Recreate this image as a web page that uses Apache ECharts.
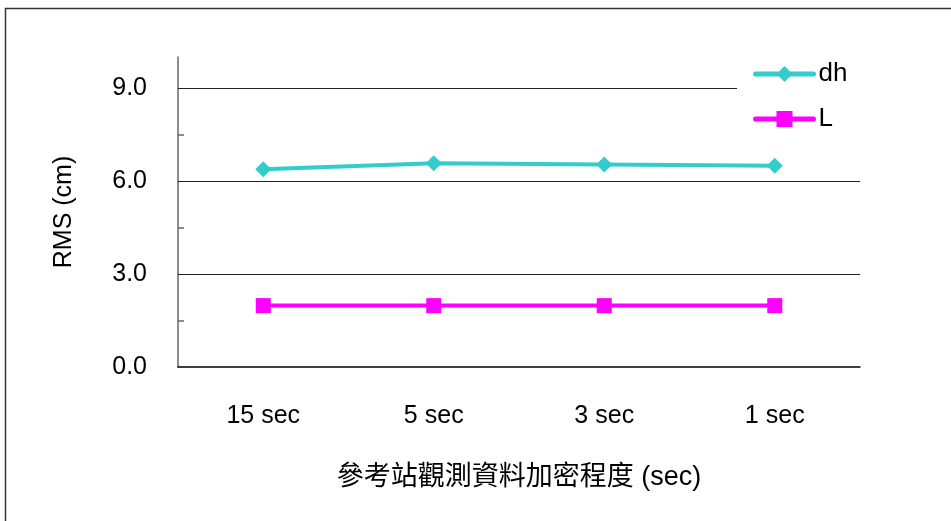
<!DOCTYPE html>
<html>
<head>
<meta charset="utf-8">
<script src="https://cdn.jsdelivr.net/npm/echarts@6/dist/echarts.min.js"></script>
<style>
  html, body { margin: 0; padding: 0; background: #fff; }
  #chart { width: 951px; height: 521px; }
</style>
</head>
<body>
<div id="chart"></div>
<script>
// Densification levels of the reference-station observations
const categories = ['15 sec', '5 sec', '3 sec', '1 sec'];
// RMS values (cm) per component
const dhValues = [6.38, 6.57, 6.53, 6.49];
const lValues = [1.98, 1.98, 1.98, 1.98];
// y-axis labels, minor ticks and horizontal grid lines
const yLabelValues = [0, 3, 6, 9];
const yMinorTicks = [1.5, 4.5, 7.5];
const gridValues = [3, 6, 9];

const LATIN = '"Liberation Sans", Arial, sans-serif';
const MIXED = '"Liberation Sans", "Noto Sans CJK TC", sans-serif';

const chart = echarts.init(document.getElementById('chart'), null, { renderer: 'canvas' });

chart.setOption({
  animation: false,
  backgroundColor: '#ffffff',
  graphic: [{
    type: 'rect',
    shape: { x: 5.5, y: 8.5, width: 980, height: 540 },
    style: { fill: 'none', stroke: '#333', lineWidth: 1.5 },
    silent: true,
    z: 0
  }],
  grid: { left: 178, right: 91, top: 57, bottom: 154 },
  legend: {
    orient: 'vertical',
    left: 737,
    top: 55,
    padding: [6, 20, 12, 16],
    backgroundColor: '#ffffff',
    itemWidth: 58,
    itemHeight: 20,
    itemGap: 19,
    z: 10,
    lineStyle: { width: 5, cap: 'round' },
    textStyle: { fontFamily: LATIN, fontSize: 26, color: '#000', lineHeight: 26 },
    data: ['dh', 'L']
  },
  xAxis: {
    type: 'category',
    data: categories,
    boundaryGap: true,
    name: '參考站觀測資料加密程度 (sec)',
    nameLocation: 'middle',
    nameGap: 97,
    nameTextStyle: { fontFamily: MIXED, fontSize: 27, color: '#000' },
    axisLine: { lineStyle: { color: '#000', width: 1.5 } },
    axisTick: { inside: true, length: 10, lineStyle: { color: '#333', width: 1 } },
    axisLabel: { fontFamily: LATIN, fontSize: 25, color: '#000', margin: 37 },
    splitLine: { show: false }
  },
  yAxis: {
    type: 'value',
    min: 0,
    max: 10,
    interval: 3,
    name: 'RMS (cm)',
    nameLocation: 'middle',
    nameGap: 101,
    nameRotate: 90,
    nameTextStyle: { fontFamily: LATIN, fontSize: 25, color: '#000' },
    axisLine: { show: true, lineStyle: { color: '#666', width: 1.5 } },
    axisTick: {
      show: true, inside: true, length: 6,
      customValues: yMinorTicks,
      lineStyle: { color: '#666', width: 1.5 }
    },
    axisLabel: {
      fontFamily: LATIN, fontSize: 25, color: '#000', margin: 31,
      customValues: yLabelValues,
      formatter: v => Number(v).toFixed(1)
    },
    splitLine: { show: false }
  },
  series: [
    {
      name: 'dh',
      type: 'line',
      data: dhValues,
      color: '#33CCCC',
      symbol: 'diamond',
      symbolSize: 16,
      lineStyle: { width: 4, color: '#33CCCC' },
      itemStyle: { color: '#33CCCC' },
      z: 3,
      markLine: {
        silent: true,
        symbol: 'none',
        label: { show: false },
        lineStyle: { color: '#222', width: 1.2, type: 'solid' },
        data: gridValues.map(v => ({ yAxis: v })),
        z: 1
      }
    },
    {
      name: 'L',
      type: 'line',
      data: lValues,
      color: '#FF00FF',
      symbol: 'rect',
      symbolSize: 15,
      lineStyle: { width: 4, color: '#FF00FF' },
      itemStyle: { color: '#FF00FF' },
      z: 3
    }
  ]
});
</script>
</body>
</html>
